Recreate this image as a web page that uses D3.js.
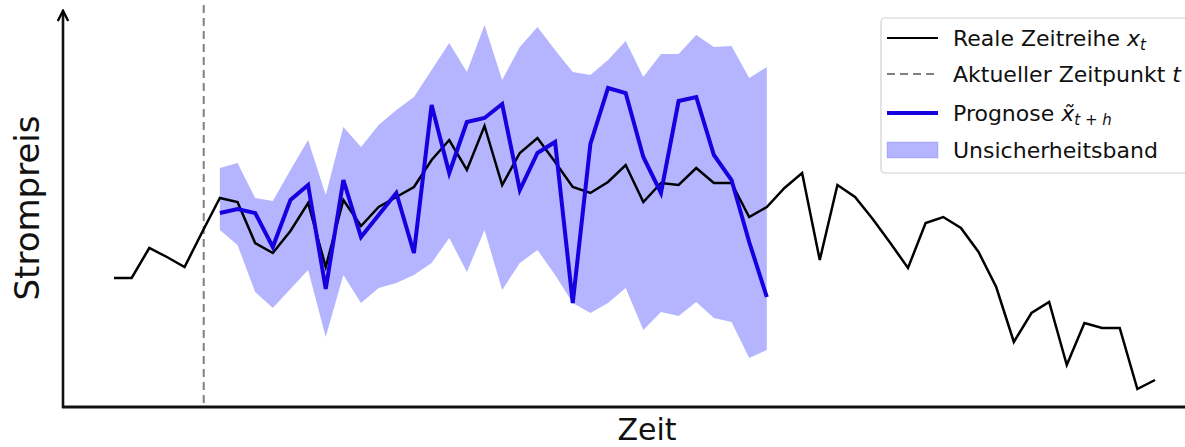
<!DOCTYPE html>
<html><head><meta charset="utf-8">
<script src="https://cdn.jsdelivr.net/npm/d3@7"></script>
<style>body{margin:0;background:#fff}svg{display:block}</style>
</head><body>
<svg id="c" width="1185" height="447"></svg>
<script>
// Real series x_t (60 time steps)
const realSeries = [129,129,159,150,140,175,209,205,164,154,176,204,140,207,181,200,210,220,247,267,
  237,281,222,254,269,245,220,214,225,242,205,224,222,239,224,224,190,200,219,234,
  147,222,210,188,164,139,184,190,179,155,120,65,94,105,42,84,79,79,18,27];
const forecastStart = 6;
const currentTime = 5;
// Forecast x~_{t+h}
const forecast = [194,198,194,160,207,222,118,227,170,192,214,154,302,234,285,289,303,217,254,265,
  104,263,319,314,250,214,306,310,252,227,165,110];
const bandUpper = [239,244,209,206,237,267,212,280,260,282,297,310,337,364,335,382,327,360,380,357,
  335,332,347,366,330,353,353,372,360,361,329,340];
const bandLower = [177,162,115,99,118,137,70,132,104,119,124,132,144,169,135,177,117,144,157,132,
  104,94,104,119,77,95,91,105,89,85,49,57];
const legendLabels = ["Reale Zeitreihe", "Aktueller Zeitpunkt", "Prognose", "Unsicherheitsband"];
const axisLabels = {x: "Zeit", y: "Strompreis"};

const svg = d3.select("#c");
const x = d3.scaleLinear().domain([0, realSeries.length - 1]).range([114, 1155]);
const y = d3.scaleLinear().domain([0, 395]).range([407, 12]);
const blue = "#1500e0";
const bandFill = "rgba(0,0,255,0.29)";

const fc = forecast.map((v, i) => ({i: i + forecastStart, v, lo: bandLower[i], hi: bandUpper[i]}));

// band
svg.append("path").datum(fc)
  .attr("d", d3.area().x(d => x(d.i)).y0(d => y(d.lo)).y1(d => y(d.hi)))
  .attr("fill", bandFill).attr("stroke", "none");

// dashed current time
svg.append("line").attr("x1", x(currentTime) + 1.5).attr("x2", x(currentTime) + 1.5)
  .attr("y1", 5).attr("y2", 407)
  .attr("stroke", "#808080").attr("stroke-width", 2).attr("stroke-dasharray", "8,5");

// real series
svg.append("path").datum(realSeries)
  .attr("d", d3.line().x((d, i) => x(i)).y(d => y(d)))
  .attr("fill", "none").attr("stroke", "#000").attr("stroke-width", 2.5).attr("stroke-linejoin", "miter");

// forecast
svg.append("path").datum(fc)
  .attr("d", d3.line().x(d => x(d.i)).y(d => y(d.v)))
  .attr("fill", "none").attr("stroke", blue).attr("stroke-width", 4).attr("stroke-linejoin", "miter");

// axes
svg.append("defs").append("marker").attr("id", "arr").attr("viewBox", "0 0 10 10")
  .attr("refX", 8).attr("refY", 5).attr("markerWidth", 5).attr("markerHeight", 5)
  .attr("orient", "auto")
  .append("path").attr("d", "M1,1 L9,5 L1,9").attr("fill", "none").attr("stroke", "#000").attr("stroke-width", 1.8);
svg.append("line").attr("x1", 63).attr("x2", 63).attr("y1", 408).attr("y2", 12)
  .attr("stroke", "#111").attr("stroke-width", 2.6).attr("marker-end", "url(#arr)");
svg.append("line").attr("x1", 62).attr("x2", 1185).attr("y1", 407).attr("y2", 407)
  .attr("stroke", "#111").attr("stroke-width", 2.8);

// axis labels
svg.append("text").attr("x", 647).attr("y", 440).attr("text-anchor", "middle")
  .attr("font-family", "DejaVu Sans").attr("font-size", 30).attr("fill", "#111").text(axisLabels.x);
svg.append("text").attr("transform", "translate(39,208) rotate(-90)").attr("text-anchor", "middle")
  .attr("font-family", "DejaVu Sans").attr("font-size", 34).attr("fill", "#111").text(axisLabels.y);

// legend
const lg = svg.append("g").attr("font-family", "DejaVu Sans").attr("font-size", 22).attr("fill", "#111");
lg.append("rect").attr("x", 881).attr("y", 18).attr("width", 320).attr("height", 155).attr("rx", 4)
  .attr("fill", "#fff").attr("fill-opacity", 0.85).attr("stroke", "#d0d0d0").attr("stroke-width", 1.2);
const rows = [38, 74, 113, 150];
lg.append("line").attr("x1", 887).attr("x2", 938).attr("y1", rows[0]).attr("y2", rows[0]).attr("stroke", "#000").attr("stroke-width", 2.2);
lg.append("line").attr("x1", 887).attr("x2", 938).attr("y1", rows[1]).attr("y2", rows[1]).attr("stroke", "#808080").attr("stroke-width", 2).attr("stroke-dasharray", "8,5");
lg.append("line").attr("x1", 887).attr("x2", 938).attr("y1", rows[2]).attr("y2", rows[2]).attr("stroke", blue).attr("stroke-width", 4);
lg.append("rect").attr("x", 887).attr("y", rows[3] - 8).attr("width", 51).attr("height", 16).attr("fill", bandFill).attr("stroke", "rgba(0,0,255,0.15)");

const t0 = lg.append("text").attr("x", 953).attr("y", rows[0] + 8);
t0.append("tspan").text(legendLabels[0] + " ");
t0.append("tspan").attr("font-style", "italic").text("x");
t0.append("tspan").attr("font-style", "italic").attr("font-size", 15).attr("dy", 4).text("t");
const t1 = lg.append("text").attr("x", 953).attr("y", rows[1] + 8);
t1.append("tspan").text(legendLabels[1] + " ");
t1.append("tspan").attr("font-style", "italic").text("t");
const t2 = lg.append("text").attr("x", 953).attr("y", rows[2] + 8);
t2.append("tspan").text(legendLabels[2] + " ");
t2.append("tspan").attr("font-style", "italic").text("x\u0303");
t2.append("tspan").attr("font-style", "italic").attr("font-size", 15).attr("dy", 4).text("t + h");
lg.append("text").attr("x", 953).attr("y", rows[3] + 8).text(legendLabels[3]);
</script>
</body></html>
